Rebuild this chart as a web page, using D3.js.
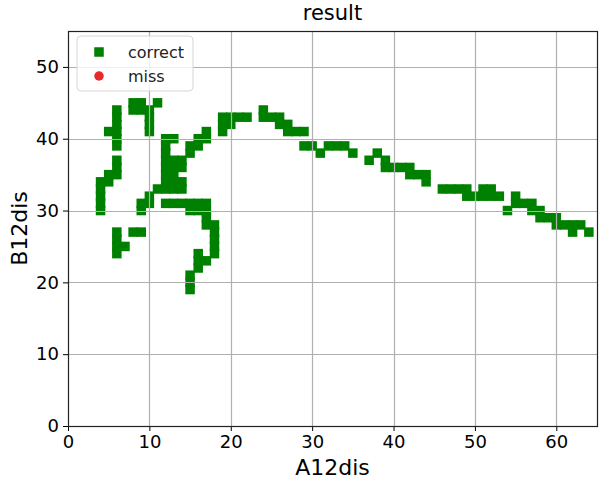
<!DOCTYPE html>
<html>
<head>
<meta charset="utf-8">
<script src="https://cdn.jsdelivr.net/npm/d3@7"></script>
<style>
	body { margin: 0; background: white; }
	svg { display: block; font-family: "DejaVu Sans", sans-serif; }
</style>
</head>
<body>
<div id="chart"></div>
<script>
// hits (grid cells)
let correctX = [4,4,4,4,4, 5,5,5, 6,6,6,6,6,6,6,6,6,6,6,6,6, 7, 8,8,8, 9,9,9,9,9, 10,10,10,10,10,10, 11,11,
	12,12,12,12,12,12,12,12,12, 13,13,13,13,13,13,13, 14,14,14,14,14, 15,15,15,15,15,15,15, 16,16,16,16,16,16,16,
	17,17,17,17,17,17,17, 18,18,18,18,18, 19,19,19, 20,20, 21, 22, 24,24, 25, 26,26, 27,27, 28, 29,29, 30, 31,
	32, 33, 34, 35, 37, 38, 39,39, 40, 41, 42,42, 43, 44,44, 46, 47, 48, 49,49, 50, 51,51, 52,52, 53, 54, 55,55,
	56, 57,57, 58,58, 59, 60,60, 61, 62,62, 63, 64];
let correctY = [30,31,32,33,34, 34,35,41, 24,25,26,27,35,36,37,39,40,41,42,43,44, 25, 27,44,45, 27,30,31,44,45, 31,32,41,42,43,44, 33,45,
	31,33,34,35,36,37,38,39,40, 31,33,34,35,36,37,40, 31,33,34,36,37, 19,20,21,30,31,38,39, 22,23,24,30,31,39,40,
	23,28,29,30,31,40,41, 24,25,26,27,28, 41,42,43, 42,43, 43, 43, 43,44, 43, 42,43, 41,42, 41, 39,41, 39, 38,
	39, 39, 39, 38, 37, 38, 36,37, 36, 36, 35,36, 35, 34,35, 33, 33, 33, 32,33, 32, 32,33, 32,33, 32, 30, 31,32,
	31, 30,31, 29,30, 29, 28,29, 28, 27,28, 28, 27];

// misses: none in this run
let missX = [];
let missY = [];

let xTicks = [0, 10, 20, 30, 40, 50, 60];
let yTicks = [0, 10, 20, 30, 40, 50];
let xMax = 65, yMax = 55;

class ResultScatter {
	constructor(settings) {
		Object.assign(this, settings);
		this.svg = d3.select(this.id).append("svg")
			.attr("width", this.w)
			.attr("height", this.h);
		this.g = this.svg.append("g");
	}

	setScales() {
		this.x = d3.scaleLinear().domain([0, xMax]).range([this.margin.left, this.w - this.margin.right]);
		this.y = d3.scaleLinear().domain([0, yMax]).range([this.h - this.margin.bottom, this.margin.top]);
	}

	render() {
		this.setScales();

		let correct = correctX.map((d, i) => { return { x: d, y: correctY[i] }; });
		let miss = missX.map((d, i) => { return { x: d, y: missY[i] }; });
		let s = this.markerSize;

		this.g.selectAll("rect.correct")
			.data(correct)
			.enter().append("rect")
			.attr("class", "correct")
			.attr("x", (d) => { return this.x(d.x) - s/2; })
			.attr("y", (d) => { return this.y(d.y) - s/2; })
			.attr("width", s)
			.attr("height", s)
			.attr("fill", this.colors.correct);

		this.g.selectAll("circle.miss")
			.data(miss)
			.enter().append("circle")
			.attr("class", "miss")
			.attr("cx", (d) => { return this.x(d.x); })
			.attr("cy", (d) => { return this.y(d.y); })
			.attr("r", s/2)
			.attr("fill", this.colors.miss);

		// matplotlib puts the grid over the markers here
		this.buildAxes();
		this.buildLegend();
		this.buildLabels();
	}

	buildAxes() {
		let bottom = this.h - this.margin.bottom;

		let xAxis = this.svg.append("g")
			.attr("transform", "translate(0," + bottom + ")")
			.call(d3.axisBottom(this.x).tickValues(xTicks).tickSize(5).tickPadding(4));
		let yAxis = this.svg.append("g")
			.attr("transform", "translate(" + this.margin.left + ",0)")
			.call(d3.axisLeft(this.y).tickValues(yTicks).tickSize(5).tickPadding(4));

		[xAxis, yAxis].forEach((a) => {
			a.select(".domain").remove();
			a.selectAll("text").attr("font-size", 18).attr("fill", "#000").attr("font-family", "DejaVu Sans");
			a.selectAll("line").attr("stroke", "#000").attr("stroke-width", 1);
		});

		let grid = this.svg.append("g").attr("class", "grid");
		grid.selectAll("line.gx")
			.data(xTicks.slice(1))
			.enter().append("line")
			.attr("x1", (d) => { return Math.round(this.x(d)) + 0.5; })
			.attr("x2", (d) => { return Math.round(this.x(d)) + 0.5; })
			.attr("y1", this.margin.top)
			.attr("y2", bottom)
			.attr("stroke", "#b0b0b0")
			.attr("stroke-width", 1.2);
		grid.selectAll("line.gy")
			.data(yTicks.slice(1))
			.enter().append("line")
			.attr("y1", (d) => { return Math.round(this.y(d)) + 0.5; })
			.attr("y2", (d) => { return Math.round(this.y(d)) + 0.5; })
			.attr("x1", this.margin.left)
			.attr("x2", this.w - this.margin.right)
			.attr("stroke", "#b0b0b0")
			.attr("stroke-width", 1.2);

		this.svg.append("rect")
			.attr("x", this.margin.left + 0.5)
			.attr("y", this.margin.top + 0.5)
			.attr("width", this.w - this.margin.left - this.margin.right)
			.attr("height", bottom - this.margin.top)
			.attr("fill", "none")
			.attr("stroke", "#222")
			.attr("stroke-width", 1.2);
	}

	buildLegend() {
		let lg = this.svg.append("g")
			.attr("transform", "translate(" + (this.margin.left + 9) + "," + (this.margin.top + 5) + ")");

		lg.append("rect")
			.attr("width", 116)
			.attr("height", 55)
			.attr("rx", 4)
			.attr("fill", "white")
			.attr("fill-opacity", 0.8)
			.attr("stroke", "#d6d6d6");

		let s = this.markerSize;
		lg.append("rect")
			.attr("x", 22 - s/2).attr("y", 16 - s/2)
			.attr("width", s).attr("height", s)
			.attr("fill", this.colors.correct);
		lg.append("circle")
			.attr("cx", 22).attr("cy", 40)
			.attr("r", s/2)
			.attr("fill", this.colors.miss);

		lg.selectAll("text")
			.data(["correct", "miss"])
			.enter().append("text")
			.attr("x", 51)
			.attr("y", (d, i) => { return 22 + i*24; })
			.attr("font-size", 16)
			.attr("fill", "#222")
			.text((d) => { return d; });
	}

	buildLabels() {
		let midX = (this.margin.left + this.w - this.margin.right)/2;
		let midY = (this.margin.top + this.h - this.margin.bottom)/2;

		this.svg.append("text")
			.attr("x", midX).attr("y", 20)
			.attr("text-anchor", "middle")
			.attr("font-size", 21)
			.text("result");

		this.svg.append("text")
			.attr("x", midX).attr("y", 475)
			.attr("text-anchor", "middle")
			.attr("font-size", 22)
			.text("A12dis");

		this.svg.append("text")
			.attr("transform", "translate(27," + midY + ")rotate(-90)")
			.attr("text-anchor", "middle")
			.attr("font-size", 22)
			.text("B12dis");
	}
}

let chart = new ResultScatter({
	id: "#chart",
	w: 600,
	h: 484,
	margin: { top: 31, right: 3, bottom: 58, left: 68 },
	markerSize: 9.5,
	colors: { correct: "#008000", miss: "#e8282b" }
});
chart.render();
</script>
</body>
</html>
